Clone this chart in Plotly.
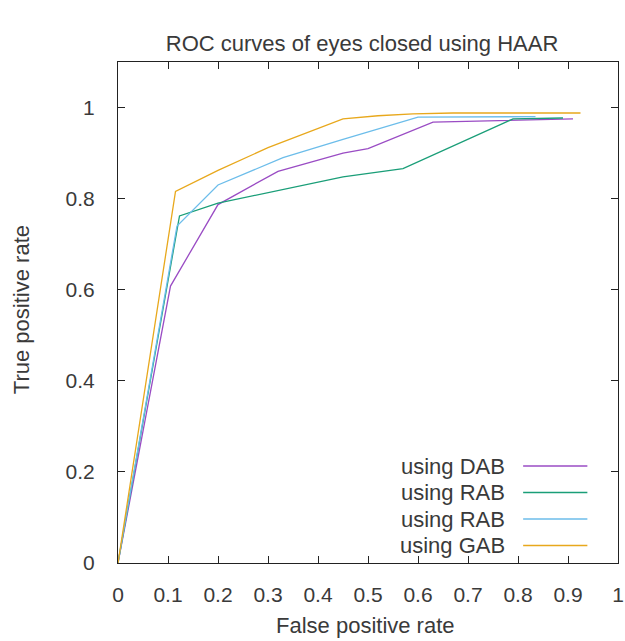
import plotly.graph_objects as go

# Data
dab_x = [0.0, 0.105, 0.20, 0.32, 0.45, 0.50, 0.63, 0.68, 0.91]
dab_y = [0.0, 0.608, 0.787, 0.860, 0.900, 0.910, 0.968, 0.969, 0.975]

rab1_x = [0.0, 0.118, 0.123, 0.20, 0.45, 0.57, 0.79, 0.89]
rab1_y = [0.0, 0.740, 0.762, 0.790, 0.848, 0.866, 0.975, 0.977]

rab2_x = [0.0, 0.118, 0.20, 0.33, 0.45, 0.60, 0.835]
rab2_y = [0.0, 0.740, 0.830, 0.890, 0.930, 0.979, 0.980]

gab_x = [0.0, 0.115, 0.20, 0.30, 0.45, 0.52, 0.59, 0.67, 0.925]
gab_y = [0.0, 0.816, 0.862, 0.912, 0.975, 0.982, 0.986, 0.988, 0.988]

x_ticks = [0, 0.1, 0.2, 0.3, 0.4, 0.5, 0.6, 0.7, 0.8, 0.9, 1]
x_tick_labels = ["0", "0.1", "0.2", "0.3", "0.4", "0.5", "0.6", "0.7", "0.8", "0.9", "1"]
y_ticks = [0, 0.2, 0.4, 0.6, 0.8, 1]
y_tick_labels = ["0", "0.2", "0.4", "0.6", "0.8", "1"]

series_names = ["using DAB", "using RAB", "using RAB", "using GAB"]
series_colors = ["#9a4cc4", "#1a9e78", "#6cbdea", "#e8a81c"]
series_x = [dab_x, rab1_x, rab2_x, gab_x]
series_y = [dab_y, rab1_y, rab2_y, gab_y]

title_text = "ROC curves of eyes closed using HAAR"
x_label = "False positive rate"
y_label = "True positive rate"

FONT = "Liberation Sans, Arial, sans-serif"
TXT = "#3a3a3a"

fig = go.Figure()
for xs, ys, name, col in zip(series_x, series_y, series_names, series_colors):
    fig.add_trace(go.Scatter(x=xs, y=ys, mode="lines", name=name,
                             line=dict(color=col, width=1.3), showlegend=False))

W, H = 625, 641
L, R, T, B = 118, 1, 62, 78
pw = W - L - R
ph = H - T - B

def px_x(px):
    return (px - L) / pw

def px_y(py):
    return (H - B - py) / ph

# Manual gnuplot-style legend (text right, line sample to the right)
legend_rows = [466, 492.5, 519, 545.5]
annotations = []
shapes = []
for name, col, ry in zip(series_names, series_colors, legend_rows):
    annotations.append(dict(x=px_x(512), y=px_y(ry), xref="paper", yref="paper",
                            text=name, showarrow=False, xanchor="right", yanchor="middle",
                            font=dict(family=FONT, size=22, color=TXT)))
    shapes.append(dict(type="line", xref="paper", yref="paper",
                       x0=px_x(528), x1=px_x(593), y0=px_y(ry), y1=px_y(ry),
                       line=dict(color=col, width=1.3)))

annotations.append(dict(x=px_x(368), y=px_y(625), xref="paper", yref="paper", text=x_label,
                        showarrow=False, xanchor="center", yanchor="middle",
                        font=dict(family=FONT, size=22, color=TXT)))
annotations.append(dict(x=px_x(20), y=px_y(310), xref="paper", yref="paper", text=y_label,
                        showarrow=False, xanchor="center", yanchor="middle", textangle=-90,
                        font=dict(family=FONT, size=22, color=TXT)))

axis_common = dict(showgrid=False, zeroline=False, showline=True, linecolor="#222",
                   linewidth=1, mirror="allticks", ticks="inside", ticklen=7,
                   tickcolor="#222", tickwidth=1, ticklabeloverflow="allow",
                   tickfont=dict(family=FONT, size=21, color=TXT))

fig.update_layout(
    width=W, height=H,
    margin=dict(l=L, r=R, t=T, b=B, pad=0),
    paper_bgcolor="white", plot_bgcolor="white",
    title=dict(text=title_text, x=px_x(365), xref="paper", xanchor="center",
               y=1 - 43 / H, yref="container", yanchor="middle",
               font=dict(family=FONT, size=22, color=TXT)),
    xaxis=dict(range=[0, 1], tickmode="array", tickvals=x_ticks, ticktext=x_tick_labels,
               ticklabelstandoff=13, **axis_common),
    yaxis=dict(range=[0, 1.1], tickmode="array", tickvals=y_ticks, ticktext=y_tick_labels,
               ticklabelstandoff=18, **axis_common),
    annotations=annotations, shapes=shapes,
)

fig.write_html("out.html")
